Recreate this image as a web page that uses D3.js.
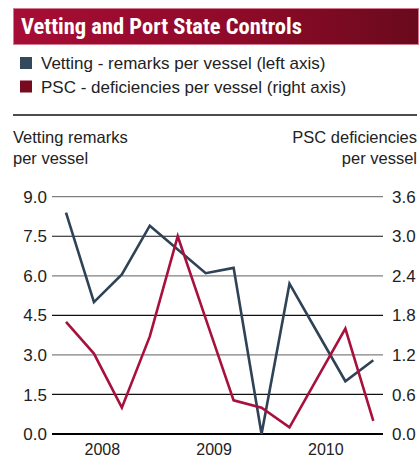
<!DOCTYPE html>
<html>
<head>
<meta charset="utf-8">
<script src="https://cdn.jsdelivr.net/npm/d3@7"></script>
<style>
  body { margin: 0; background: #fff; }
  text { font-family: "Liberation Sans", Arial, sans-serif; fill: #222; }
</style>
</head>
<body>
<div id="chart"></div>
<script>
// Vetting and Port State Controls - quarterly values 2008-2010

const quarters = ["2008Q1", "2008Q2", "2008Q3", "2008Q4",
                  "2009Q1", "2009Q2", "2009Q3", "2009Q4",
                  "2010Q1", "2010Q2", "2010Q3", "2010Q4"];
const years = ["2008", "2009", "2010"];
const vettingRemarks = [8.4, 5.0, 6.05, 7.9, 7.0, 6.1, 6.3, 0.0, 5.7, 3.85, 2.0, 2.8];   // left axis
const pscDeficiencies = [1.7, 1.22, 0.4, 1.48, 3.0, 1.75, 0.51, 0.4, 0.1, 0.85, 1.6, 0.2]; // right axis
const leftTicks = [0, 1.5, 3.0, 4.5, 6.0, 7.5, 9.0];
const rightTicks = [0, 0.6, 1.2, 1.8, 2.4, 3.0, 3.6];

const width = 420, height = 469;
const blue = "#2f4256", red = "#a8113d";

const svg = d3.select("#chart").append("svg")
    .attr("width", width)
    .attr("height", height);

// Title bar with gradient
const grad = svg.append("defs").append("linearGradient")
    .attr("id", "titleGrad");
grad.append("stop").attr("offset", "0%").attr("stop-color", "#a70d36");
grad.append("stop").attr("offset", "60%").attr("stop-color", "#8c0a27");
grad.append("stop").attr("offset", "100%").attr("stop-color", "#6a0a1c");

svg.append("rect")
    .attr("x", 13.5).attr("y", 8.5)
    .attr("width", 405).attr("height", 36)
    .attr("fill", "url(#titleGrad)")
    .attr("stroke", "#d27a8e")
    .attr("stroke-width", 1);

svg.append("text")
    .attr("x", 21).attr("y", 33.5)
    .style("font-family", "'Liberation Sans Narrow', 'Roboto Condensed', Arial, sans-serif")
    .style("font-weight", "bold")
    .style("font-size", "22.5px")
    .style("fill", "#fff")
    .text("Vetting and Port State Controls");

// Legend
const legend = [
    {label: "Vetting - remarks per vessel (left axis)", color: "#34495c"},
    {label: "PSC - deficiencies per vessel (right axis)", color: "#780a20"}
];
const lg = svg.selectAll(".legend")
    .data(legend)
    .enter().append("g")
    .attr("class", "legend")
    .attr("transform", (d, i) => "translate(20," + (57 + i * 23.5) + ")");
lg.append("rect")
    .attr("width", 12).attr("height", 12)
    .attr("fill", d => d.color);
lg.append("text")
    .attr("x", 21).attr("y", 12)
    .style("font-size", "17px")
    .text(d => d.label);

// Separator line
svg.append("line")
    .attr("x1", 13).attr("x2", 417)
    .attr("y1", 115).attr("y2", 115)
    .attr("stroke", "#111").attr("stroke-width", 1.3);

// Axis titles
const leftTitle = svg.append("text")
    .attr("x", 13).attr("y", 143)
    .style("font-size", "16.5px");
leftTitle.append("tspan").attr("x", 13).text("Vetting remarks");
leftTitle.append("tspan").attr("x", 13).attr("dy", 21).text("per vessel");

const rightTitle = svg.append("text")
    .attr("x", 417).attr("y", 143)
    .style("font-size", "16.5px")
    .style("text-anchor", "end");
rightTitle.append("tspan").attr("x", 417).text("PSC deficiencies");
rightTitle.append("tspan").attr("x", 417).attr("dy", 21).text("per vessel");

// Scales
const plot = {left: 52, right: 383, top: 196.7, bottom: 434};
const x = d3.scaleLinear()
    .domain([0, quarters.length - 1])
    .range([66, 373.3]);
const yLeft = d3.scaleLinear().domain([0, 9]).range([plot.bottom, plot.top]);
const yRight = d3.scaleLinear().domain([0, 3.6]).range([plot.bottom, plot.top]);

// Gridlines (alternating grey / black)
svg.selectAll(".grid")
    .data(leftTicks)
    .enter().append("line")
    .attr("class", "grid")
    .attr("x1", plot.left).attr("x2", plot.right)
    .attr("y1", d => yLeft(d)).attr("y2", d => yLeft(d))
    .attr("stroke", (d, i) => i === 0 ? "#000" : (i % 2 === 0 ? "#808080" : "#111"))
    .attr("stroke-width", (d, i) => i === 0 ? 2 : 1.2);

// Left tick labels
svg.selectAll(".ltick")
    .data(leftTicks)
    .enter().append("text")
    .attr("class", "ltick")
    .attr("x", 47)
    .attr("y", d => yLeft(d))
    .attr("dy", "0.36em")
    .style("font-size", "17px")
    .style("text-anchor", "end")
    .text(d => d3.format(".1f")(d));

// Right tick labels
svg.selectAll(".rtick")
    .data(rightTicks)
    .enter().append("text")
    .attr("class", "rtick")
    .attr("x", 392)
    .attr("y", d => yRight(d))
    .attr("dy", "0.36em")
    .style("font-size", "17px")
    .text(d => d3.format(".1f")(d));

// Year labels
svg.selectAll(".year")
    .data(years)
    .enter().append("text")
    .attr("class", "year")
    .attr("x", (d, i) => x(i * 4 + 1.3))
    .attr("y", 455)
    .style("font-size", "16px")
    .style("text-anchor", "middle")
    .text(d => d);

// Lines
const lineLeft = d3.line().x((d, i) => x(i)).y(d => yLeft(d));
const lineRight = d3.line().x((d, i) => x(i)).y(d => yRight(d));

svg.append("path")
    .datum(vettingRemarks)
    .attr("fill", "none")
    .attr("stroke", blue)
    .attr("stroke-width", 2.6)
    .attr("stroke-linejoin", "miter")
    .attr("d", lineLeft);

svg.append("path")
    .datum(pscDeficiencies)
    .attr("fill", "none")
    .attr("stroke", red)
    .attr("stroke-width", 2.6)
    .attr("stroke-linejoin", "miter")
    .attr("d", lineRight);
</script>
</body>
</html>
